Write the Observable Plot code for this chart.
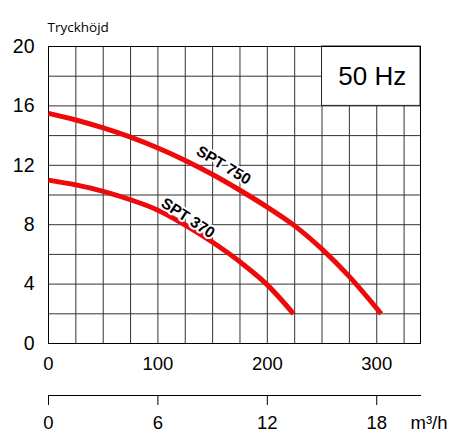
<!DOCTYPE html>
<html><head><meta charset="utf-8">
<script src="https://cdn.jsdelivr.net/npm/d3@7"></script>
<script src="https://cdn.jsdelivr.net/npm/@observablehq/plot@0.6"></script>
<style>body{margin:0;background:#fff;} svg{display:block;}</style>
</head><body><div id="chart"></div>
<script>
// Data (flow in l/min, head in m)
const spt750Flow = [0, 25, 50, 75, 100, 125, 150, 175, 200, 225, 250, 275, 304];
const spt750Head = [15.5, 15.05, 14.52, 13.9, 13.17, 12.33, 11.38, 10.32, 9.18, 7.92, 6.35, 4.5, 2.0];
const spt370Flow = [0, 25, 50, 75, 100, 125, 150, 175, 200, 224];
const spt370Head = [11.0, 10.68, 10.25, 9.68, 8.98, 7.98, 6.82, 5.5, 3.95, 2.0];

const curveNames = ["SPT 750", "SPT 370"];
const labelFlow = [160, 127.5];
const labelHead = [12.0, 8.45];
const labelAngle = [31, 33];

const xTicks = [0, 100, 200, 300];
const yTicks = [0, 4, 8, 12, 16, 20];
const xGrid = [25, 50, 75, 100, 125, 150, 175, 200, 225, 250, 275, 300, 325];
const yGrid = [2, 4, 6, 8, 10, 12, 14, 16, 18];
const m3Ticks = [0, 6, 12, 18];
const flowMax = 340;          // l/min
const lpmToM3h = 6 / 100;     // 100 l/min = 6 m3/h
const yTitle = "Tryckhöjd";
const unitLabel = "m³/h";
const freqLabel = "50 Hz";
const freqBoxFlow = [250, 340];
const freqBoxHead = [16, 20];

const s750 = spt750Flow.map((x, i) => ({x, y: spt750Head[i], name: curveNames[0]}));
const s370 = spt370Flow.map((x, i) => ({x, y: spt370Head[i], name: curveNames[1]}));
const labels = curveNames.map((t, i) => ({t, x: labelFlow[i], y: labelHead[i], a: labelAngle[i]}));
const box = [{x1: freqBoxFlow[0], x2: freqBoxFlow[1], y1: freqBoxHead[0], y2: freqBoxHead[1], label: freqLabel}];

const font = "'Liberation Sans', Arial, Helvetica, sans-serif";
const red = "#ee0a0a";

const main = Plot.plot({
  width: 457, height: 376,
  marginTop: 46, marginBottom: 33, marginLeft: 48, marginRight: 37,
  style: {fontFamily: font, fontSize: "19px", background: "white", color: "black"},
  x: {domain: [0, flowMax]},
  y: {domain: [0, 20]},
  marks: [
    Plot.ruleY(yGrid, {stroke: "#333", strokeWidth: 1}),
    Plot.ruleX(xGrid, {stroke: "#333", strokeWidth: 1}),
    Plot.rect(box, {x1: "x1", x2: "x2", y1: "y1", y2: "y2", fill: "white", stroke: "#222"}),
    Plot.text(box, {x: d => (d.x1 + d.x2) / 2, y: d => (d.y1 + d.y2) / 2, text: "label", fontSize: 26, dx: 1}),
    Plot.frame({stroke: "black"}),
    Plot.line(s750, {x: "x", y: "y", stroke: red, strokeWidth: 5, curve: "monotone-x", strokeLinecap: "butt"}),
    Plot.line(s370, {x: "x", y: "y", stroke: red, strokeWidth: 5, curve: "monotone-x", strokeLinecap: "butt"}),
    Plot.text(labels, {x: "x", y: "y", text: "t", rotate: "a", fontSize: 15.5, fontWeight: "bold",
      stroke: "white", strokeWidth: 4, fill: "black"}),
    Plot.axisY({ticks: yTicks, tickSize: 0, tickPadding: 14, fontSize: 19.5, label: null}),
    Plot.axisX({ticks: xTicks, tickSize: 0, tickPadding: 13, fontSize: 18.5, label: null}),
    Plot.text([yTitle], {frameAnchor: "top-left", textAnchor: "start", dx: -1, dy: -24,
      fontSize: 13.5, fontFamily: "'Open Sans', sans-serif"})
  ]
});

const lower = Plot.plot({
  width: 457, height: 56,
  marginTop: 18, marginBottom: 37, marginLeft: 48, marginRight: 37,
  style: {fontFamily: font, fontSize: "18.5px", background: "white", color: "black"},
  x: {domain: [0, flowMax * lpmToM3h]},
  marks: [
    Plot.frame({anchor: "bottom", stroke: "black"}),
    Plot.axisX({ticks: m3Ticks, tickSize: 10, tickPadding: 10, fontSize: 18.5, label: null}),
    Plot.text([unitLabel], {frameAnchor: "bottom-right", textAnchor: "start", lineAnchor: "top",
      dx: -10, dy: 20, fontSize: 18.5})
  ]
});

const c = document.getElementById("chart");
c.appendChild(main);
c.appendChild(lower);
</script>
</body></html>
